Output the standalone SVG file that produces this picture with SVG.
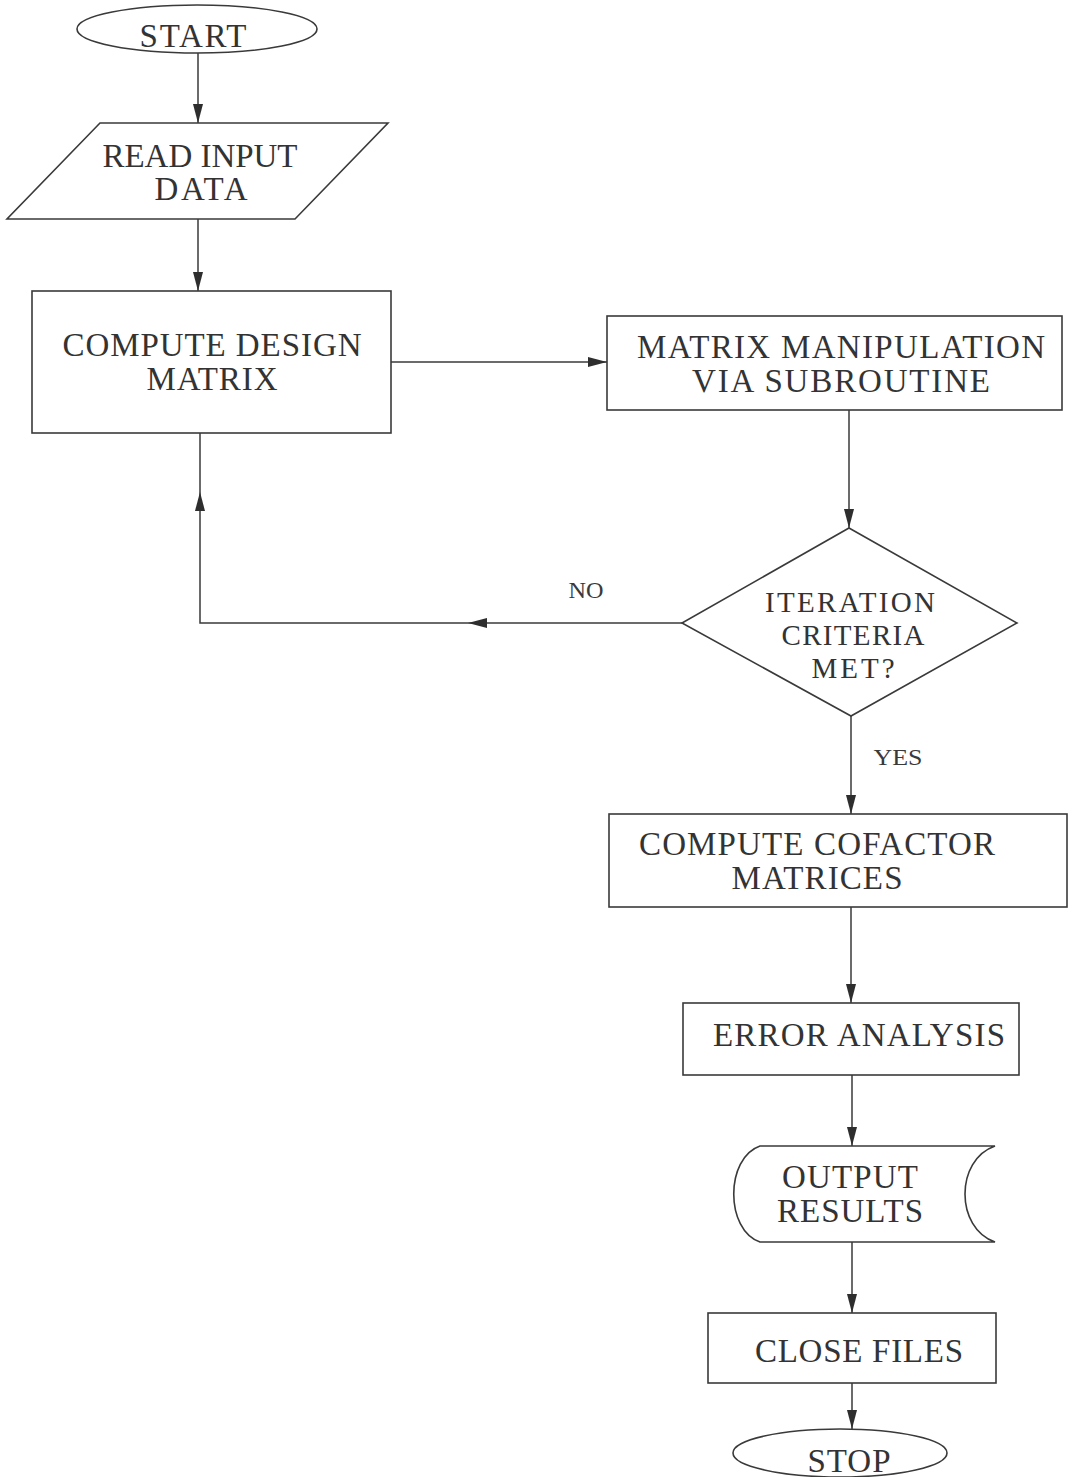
<svg xmlns="http://www.w3.org/2000/svg" width="1072" height="1477" viewBox="0 0 1072 1477">
  <style>
    .shape { fill: #ffffff; stroke: #3a3a3a; stroke-width: 1.6; }
    .conn { fill: none; stroke: #3a3a3a; stroke-width: 1.5; }
    .lbl { font-family: "Liberation Serif", "Times New Roman", serif; font-size: 33px; fill: #333333; text-anchor: middle; }
    .dlbl { font-family: "Liberation Serif", "Times New Roman", serif; font-size: 29px; fill: #333333; text-anchor: middle; }
    .small { font-family: "Liberation Serif", "Times New Roman", serif; font-size: 24px; fill: #3a3a3a; text-anchor: middle; }
  </style>
  <defs>
    <marker id="arrow" markerUnits="userSpaceOnUse" markerWidth="19" markerHeight="11" refX="19" refY="5.5" orient="auto">
      <path d="M0,0.5 L19,5.5 L0,10.5 z" fill="#2e2e2e"/>
    </marker>
  </defs>

  <rect width="1072" height="1477" fill="#ffffff"/>

  <!-- connectors -->
  <g id="connectors">
    <path class="conn" d="M198,53 V123" marker-end="url(#arrow)"/>
    <path class="conn" d="M198,219 V291" marker-end="url(#arrow)"/>
    <path class="conn" d="M391,362 H607" marker-end="url(#arrow)"/>
    <path class="conn" d="M849,410 V528" marker-end="url(#arrow)"/>
    <!-- NO branch loops back to the design matrix -->
    <path class="conn" d="M682,623 H468" marker-end="url(#arrow)"/>
    <path class="conn" d="M468,623 H200 V492" marker-end="url(#arrow)"/>
    <path class="conn" d="M200,492 V433"/>
    <!-- YES branch -->
    <path class="conn" d="M851,716 V814" marker-end="url(#arrow)"/>
    <path class="conn" d="M851,907 V1003" marker-end="url(#arrow)"/>
    <path class="conn" d="M852,1075 V1146" marker-end="url(#arrow)"/>
    <path class="conn" d="M852,1242 V1313" marker-end="url(#arrow)"/>
    <path class="conn" d="M852,1383 V1429" marker-end="url(#arrow)"/>
    <text class="small" x="586" y="598" textLength="35" lengthAdjust="spacingAndGlyphs">NO</text>
    <text class="small" x="898" y="765" textLength="49" lengthAdjust="spacingAndGlyphs">YES</text>
  </g>

  <g id="start">
    <ellipse class="shape" cx="197" cy="29" rx="120" ry="24"/>
    <text class="lbl" x="193" y="47" textLength="107">START</text>
  </g>

  <g id="read-input">
    <polygon class="shape" points="100,123 388,123 295,219 7,219"/>
    <text class="lbl" x="200" y="167" textLength="195">READ INPUT</text>
    <text class="lbl" x="201" y="200" textLength="93">DATA</text>
  </g>

  <g id="compute-design">
    <rect class="shape" x="32" y="291" width="359" height="142"/>
    <text class="lbl" x="212" y="356" textLength="299">COMPUTE DESIGN</text>
    <text class="lbl" x="212" y="390" textLength="131">MATRIX</text>
  </g>

  <g id="matrix-manipulation">
    <rect class="shape" x="607" y="316" width="455" height="94"/>
    <text class="lbl" x="841" y="358" textLength="408">MATRIX MANIPULATION</text>
    <text class="lbl" x="841" y="392" textLength="298">VIA SUBROUTINE</text>
  </g>

  <g id="iteration-check">
    <polygon class="shape" points="849,528 1017,623 851,716 682,623"/>
    <text class="dlbl" x="850" y="612" textLength="170">ITERATION</text>
    <text class="dlbl" x="853" y="645" textLength="143">CRITERIA</text>
    <text class="dlbl" x="853" y="678" textLength="83">MET?</text>
  </g>

  <g id="compute-cofactor">
    <rect class="shape" x="609" y="814" width="458" height="93"/>
    <text class="lbl" x="817" y="855" textLength="356">COMPUTE COFACTOR</text>
    <text class="lbl" x="817" y="889" textLength="171">MATRICES</text>
  </g>

  <g id="error-analysis">
    <rect class="shape" x="683" y="1003" width="336" height="72"/>
    <text class="lbl" x="859" y="1046" textLength="292">ERROR ANALYSIS</text>
  </g>

  <g id="output-results">
    <path class="shape" d="M760,1146 H995 C955,1160 955,1228 995,1242 H760 C725,1230 725,1158 760,1146 Z"/>
    <text class="lbl" x="850" y="1188" textLength="136">OUTPUT</text>
    <text class="lbl" x="850" y="1222" textLength="146">RESULTS</text>
  </g>

  <g id="close-files">
    <rect class="shape" x="708" y="1313" width="288" height="70"/>
    <text class="lbl" x="859" y="1362" textLength="208">CLOSE FILES</text>
  </g>

  <g id="stop">
    <ellipse class="shape" cx="840" cy="1453" rx="107" ry="24"/>
    <text class="lbl" x="849" y="1472" textLength="83">STOP</text>
  </g>
</svg>
